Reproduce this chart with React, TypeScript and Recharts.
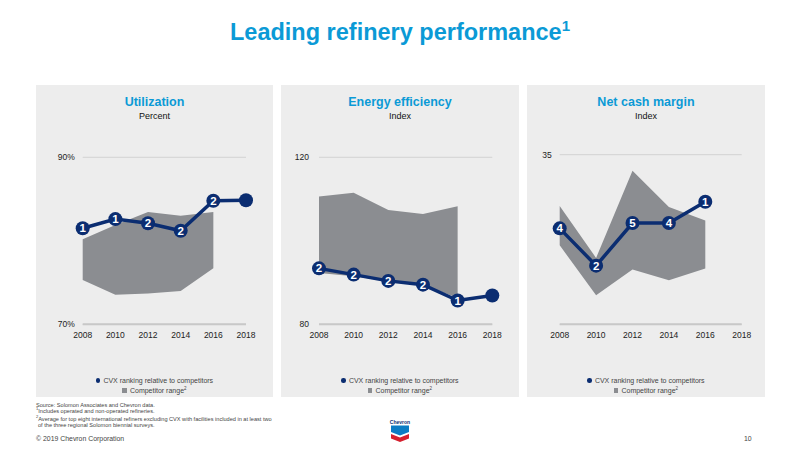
import React from "react";
import { ComposedChart, Area, Line, XAxis, YAxis, CartesianGrid, Legend } from "recharts";

const years = ["2008", "2010", "2012", "2014", "2016", "2018"];

const utilCvx = [81.5, 82.6, 82.1, 81.2, 84.8, 84.85];
const utilLow = [75.3, 73.55, 73.7, 74.0, 76.7, null];
const utilHigh = [80.2, 81.9, 83.45, 83.0, 83.45, null];
const utilRanks = ["1", "1", "2", "2", "2", ""];

const energyCvx = [93.4, 91.9, 90.4, 89.5, 85.7, 86.9];
const energyLow = [92.3, 91.5, 90.3, 89.5, 86.3, null];
const energyHigh = [110.6, 111.5, 107.4, 106.4, 108.3, null];
const energyRanks = ["2", "2", "2", "2", "1", ""];

const marginCvx = [19.8, 12.1, 20.9, 20.9, 25.3, null];
const marginLow = [16.3, 6.0, 11.3, 9.1, 11.5, null];
const marginHigh = [24.4, 13.7, 31.7, 24.2, 21.4, null];
const marginRanks = ["4", "2", "5", "4", "1", ""];

const NAVY = "#0b2d71";
const BLUE = "#0b9ad6";
const RANGE = "#8b8d91";
const FONT = "'Liberation Sans', Arial, sans-serif";

const buildRows = (cvx, low, high, ranks) =>
  years.map((year, i) => ({
    year,
    cvx: cvx[i],
    range: low[i] === null ? null : [low[i], high[i]],
    rank: ranks[i],
  }));

const RankDot = (props: any) => {
  const { cx, cy, payload, index } = props;
  if (cy === null || cy === undefined) return <g key={index} />;
  return (
    <g key={index}>
      <circle cx={cx} cy={cy} r={7} fill={NAVY} />
      <text x={cx} y={cy + 4} textAnchor="middle" fill="#fff" fontSize={11.5} fontWeight={700} fontFamily={FONT}>
        {payload.rank}
      </text>
    </g>
  );
};

const LegendRows = () => (
  <div style={{ height: 22, paddingTop: 3, boxSizing: "border-box", fontFamily: FONT, fontSize: 7, lineHeight: "10px", color: "#444", textAlign: "center" }}>
    <div>
      <span style={{ display: "inline-block", width: 4.5, height: 4.5, borderRadius: "50%", background: NAVY, marginRight: 3, verticalAlign: 0.5 }} />
      CVX ranking relative to competitors
    </div>
    <div>
      <span style={{ display: "inline-block", width: 4.5, height: 4.5, background: RANGE, marginRight: 3, verticalAlign: 0.5 }} />
      Competitor range<sup style={{ fontSize: 4.5, lineHeight: 0 }}>2</sup>
    </div>
  </div>
);

const Panel = ({ left, width, title, unit, rows, domain, yLabels, plotLeft, plotRight, plotTop, tickGap }: any) => (
  <div style={{ position: "absolute", left, top: 85, width, height: 312, background: "#ededed" }}>
    <div style={{ position: "absolute", top: 10, width: "100%", textAlign: "center", color: BLUE, fontFamily: FONT, fontWeight: 700, fontSize: 12.5 }}>
      {title}
    </div>
    <div style={{ position: "absolute", top: 26, width: "100%", textAlign: "center", color: "#111", fontFamily: FONT, fontSize: 9 }}>
      {unit}
    </div>
    <ComposedChart
      width={width}
      height={312}
      data={rows}
      margin={{ top: plotTop, right: plotRight, bottom: 2, left: 0 }}
      style={{ position: "absolute", left: 0, top: 0 }}
    >
      <CartesianGrid vertical={false} stroke="#d2d2d2" strokeWidth={1} />
      <XAxis
        dataKey="year"
        scale="point"
        interval={0}
        height={48.7}
        tickLine={false}
        axisLine={{ stroke: "#c8c8c8", strokeWidth: 2 }}
        tick={{ fill: "#222", fontSize: 8.5, fontFamily: FONT }}
        tickMargin={2}
      />
      <YAxis
        width={plotLeft}
        domain={domain}
        ticks={domain}
        tickFormatter={(v) => yLabels[domain.indexOf(v)]}
        axisLine={false}
        tickLine={false}
        tickMargin={tickGap}
        tick={{ fill: "#222", fontSize: 8.5, fontFamily: FONT }}
      />
      <Area dataKey="range" fill={RANGE} fillOpacity={1} stroke="none" isAnimationActive={false} dot={false} activeDot={false} />
      <Line dataKey="cvx" stroke={NAVY} strokeWidth={3.5} dot={RankDot} activeDot={false} isAnimationActive={false} />
      <Legend verticalAlign="bottom" content={LegendRows} wrapperStyle={{ left: 0, width }} />
    </ComposedChart>
  </div>
);

const Logo = () => (
  <svg style={{ position: "absolute", left: 388, top: 419 }} width={24} height={24} viewBox="0 0 24 24">
    <text x={12} y={5} textAnchor="middle" fontSize={5} fontWeight={700} fontFamily={FONT} fill="#0b2d71">Chevron</text>
    <path d="M3 6.5 L21 6.5 L21 13 L12 16.5 L3 13 Z" fill="#0b7cc4" />
    <path d="M3 15 L12 18.5 L21 15 L21 19.5 L12 23 L3 19.5 Z" fill="#d5202e" />
  </svg>
);

const smallText = { position: "absolute", left: 36, fontFamily: FONT, fontSize: 5.6, color: "#444", whiteSpace: "nowrap" } as const;

export default function App() {
  return (
    <div style={{ position: "absolute", left: 0, top: 0, width: 800, height: 450, background: "#fff", overflow: "hidden" }}>
      <div style={{ position: "absolute", top: 19, width: 800, textAlign: "center", color: BLUE, fontFamily: FONT, fontWeight: 700, fontSize: 23.5 }}>
        Leading refinery performance<sup style={{ fontSize: 15, lineHeight: 0 }}>1</sup>
      </div>

      <Panel left={36} width={237} title="Utilization" unit="Percent" rows={buildRows(utilCvx, utilLow, utilHigh, utilRanks)}
        domain={[70, 90]} yLabels={["70%", "90%"]} plotLeft={46.7} plotRight={27} plotTop={72.3} tickGap={2} />
      <Panel left={281} width={238} title="Energy efficiency" unit="Index" rows={buildRows(energyCvx, energyLow, energyHigh, energyRanks)}
        domain={[80, 120]} yLabels={["80", "120"]} plotLeft={38} plotRight={26.7} plotTop={72.3} tickGap={4} />
      <Panel left={527} width={238} title="Net cash margin" unit="Index" rows={buildRows(marginCvx, marginLow, marginHigh, marginRanks)}
        domain={[0, 35]} yLabels={["", "35"]} plotLeft={32.7} plotRight={23.3} plotTop={69.7} tickGap={2} />

      <div style={{ ...smallText, top: 401.5 }}>Source: Solomon Associates and Chevron data.</div>
      <div style={{ ...smallText, top: 408 }}><sup style={{ fontSize: 4, lineHeight: 0 }}>1</sup>Includes operated and non-operated refineries.</div>
      <div style={{ ...smallText, top: 415.5 }}><sup style={{ fontSize: 4, lineHeight: 0 }}>2</sup>Average for top eight international refiners excluding CVX with facilities included in at least two</div>
      <div style={{ ...smallText, top: 421.5, left: 38 }}>of the three regional Solomon biennial surveys.</div>
      <div style={{ ...smallText, top: 435, fontSize: 6.9 }}>© 2019 Chevron Corporation</div>
      <div style={{ ...smallText, top: 435, left: 744, fontSize: 6.9 }}>10</div>
      <Logo />
    </div>
  );
}
